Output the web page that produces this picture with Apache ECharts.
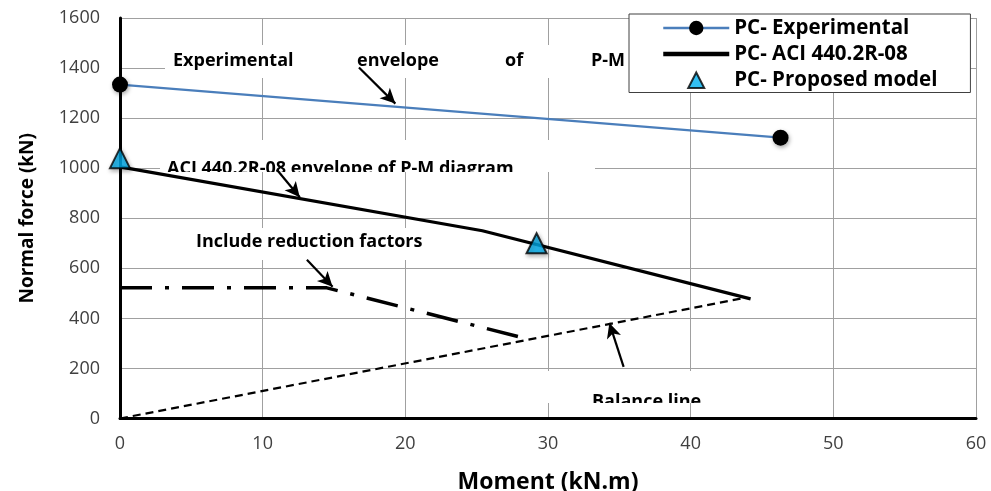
<!DOCTYPE html>
<html>
<head>
<meta charset="utf-8">
<script src="https://cdn.jsdelivr.net/npm/echarts@6/dist/echarts.min.js"></script>
<style>
  html, body { margin: 0; padding: 0; background: #ffffff; }
  #chart { width: 991px; height: 491px; }
</style>
</head>
<body>
<div id="chart"></div>
<script>
// P-M interaction curves: moment in kN.m, normal force in kN
const experimentalM = [0, 46.3];
const experimentalP = [1334, 1122];

const aciM = [0, 25.4, 44.2];
const aciP = [1005, 750, 478];

const proposedM = [0, 29.2];
const proposedP = [1040, 700];

const reducedM = [0, 14.5, 28.0];
const reducedP = [522, 522, 326];

const balanceM = [0, 43.8];
const balanceP = [0, 482];

// axis ranges
const xRange = { min: 0, max: 60, interval: 10 };
const yRange = { min: 0, max: 1600, interval: 200 };

// annotation arrows, [tail, head] in data units
const arrowExperimental = [[16.75, 1402], [19.3, 1258]];
const arrowAci = [[11.0, 994], [12.6, 884]];
const arrowReduced = [[13.1, 634], [14.9, 526]];
const arrowBalance = [[35.3, 206], [34.3, 382]];

const legendNames = ['PC- Experimental', 'PC- ACI 440.2R-08', 'PC- Proposed model'];

const zip = (xs, ys) => xs.map((x, i) => [x, ys[i]]);

const FONT = '"Open Sans", "DejaVu Sans", sans-serif';
const markerShadow = { shadowBlur: 4, shadowColor: 'rgba(0,0,0,0.35)', shadowOffsetX: 1, shadowOffsetY: 2 };

// legend triangle: the two leading moves pad the icon to the full 66x18 item box
const legendTriangle = 'path://M0,0M66,18M33,1.5L41,17L25,17Z';

function arrow(pair) {
  return {
    silent: true,
    symbol: ['none', 'arrow'],
    symbolSize: [11, 15],
    label: { show: false },
    lineStyle: { color: '#000', width: 2.2, type: 'solid' },
    emphasis: { disabled: true },
    animation: false,
    data: [[{ coord: pair[0] }, { coord: pair[1] }]]
  };
}

// white text panels, clipped to their own frames
const panels = [
  { rect: { left: 165, top: 45, width: 640, height: 33 },
    words: [['Experimental', 8, 16], ['envelope', 192, 16], ['of', 340, 16], ['P-M', 426, 16], ['diagram', 530, 16]] },
  { rect: { left: 160, top: 140, width: 435, height: 32 },
    words: [['ACI 440.2R-08 envelope of P-M diagram', 7, 28.5]] },
  { rect: { left: 188, top: 228, width: 237, height: 32 },
    words: [['Include reduction factors', 8, 14]] },
  { rect: { left: 540, top: 371, width: 220, height: 32 },
    words: [['Balance line', 52, 30.5]] }
];

const grids = [{ left: 120, right: 15, top: 18, bottom: 72.5, containLabel: false, outerBoundsMode: 'none' }];
const xAxes = [{
  type: 'value', gridIndex: 0, min: xRange.min, max: xRange.max, interval: xRange.interval,
  name: 'Moment (kN.m)', nameLocation: 'middle', nameGap: 52,
  nameTextStyle: { fontFamily: FONT, fontWeight: 'bold', fontSize: 23, color: '#000' },
  axisLine: { show: true, onZero: false, lineStyle: { color: '#000', width: 3 } },
  axisTick: { show: false },
  axisLabel: { margin: 16, fontFamily: FONT, fontSize: 18, color: '#404040' },
  splitLine: { show: true, lineStyle: { color: '#a0a0a0', width: 1 } }
}];
const yAxes = [{
  type: 'value', gridIndex: 0, min: yRange.min, max: yRange.max, interval: yRange.interval,
  name: 'Normal force (kN)', nameLocation: 'middle', nameGap: 83,
  nameTextStyle: { fontFamily: FONT, fontWeight: 'bold', fontSize: 19, color: '#000' },
  axisLine: { show: true, onZero: false, lineStyle: { color: '#000', width: 3 } },
  axisTick: { show: false },
  axisLabel: { margin: 20, fontFamily: FONT, fontSize: 18, color: '#404040', formatter: v => String(v) },
  splitLine: { show: true, lineStyle: { color: '#a0a0a0', width: 1 } }
}];

const panelSeries = panels.map((p, i) => {
  grids.push(Object.assign({ containLabel: false, outerBoundsMode: 'none' }, p.rect));
  xAxes.push({ type: 'value', gridIndex: i + 1, min: 0, max: 1, show: false });
  yAxes.push({ type: 'value', gridIndex: i + 1, min: 0, max: 1, show: false });
  return {
    type: 'custom',
    xAxisIndex: i + 1,
    yAxisIndex: i + 1,
    clip: true,
    silent: true,
    z: 1,
    data: [[0, 0]],
    renderItem: function (params) {
      const cs = params.coordSys;
      const children = [{
        type: 'rect',
        shape: { x: cs.x, y: cs.y, width: cs.width, height: cs.height },
        style: { fill: '#ffffff' }
      }];
      p.words.forEach(function (w) {
        children.push({
          type: 'text',
          x: cs.x + w[1],
          y: cs.y + w[2],
          style: {
            text: w[0],
            font: 'bold 18px ' + FONT,
            fill: '#000',
            textAlign: 'left', align: 'left',
            textVerticalAlign: 'middle', verticalAlign: 'middle'
          }
        });
      });
      return { type: 'group', children: children };
    }
  };
});

const option = {
  animation: false,
  backgroundColor: '#ffffff',
  grid: grids,
  xAxis: xAxes,
  yAxis: yAxes,
  legend: {
    data: [
      { name: legendNames[0], lineStyle: { width: 2.5 } },
      { name: legendNames[1], itemStyle: { opacity: 0 }, lineStyle: { width: 4.5, color: '#000000' } },
      { name: legendNames[2], icon: legendTriangle }
    ],
    orient: 'vertical',
    left: 629,
    top: 14,
    padding: [3.5, 33, 2, 32],
    itemWidth: 66,
    itemHeight: 18,
    itemGap: 5,
    backgroundColor: '#ffffff',
    borderColor: '#404040',
    borderWidth: 1,
    selectedMode: false,
    itemStyle: { shadowBlur: 0, shadowColor: 'rgba(0,0,0,0)', shadowOffsetX: 0, shadowOffsetY: 0 },
    textStyle: { fontFamily: FONT, fontWeight: 'bold', fontSize: 20.5, color: '#000' }
  },
  series: [
    {
      name: 'PC- Experimental',
      type: 'line',
      data: zip(experimentalM, experimentalP),
      symbol: 'circle',
      symbolSize: 16,
      showSymbol: true,
      clip: false,
      z: 3,
      lineStyle: { color: '#4A7EBB', width: 2.2 },
      itemStyle: Object.assign({ color: '#000000' }, markerShadow),
      emphasis: { disabled: true },
      markLine: arrow(arrowExperimental)
    },
    {
      name: 'PC- ACI 440.2R-08',
      type: 'line',
      data: zip(aciM, aciP),
      symbol: 'none',
      clip: false,
      z: 2,
      lineStyle: { color: '#000000', width: 3.2 },
      itemStyle: { color: '#000000' },
      emphasis: { disabled: true },
      markLine: arrow(arrowAci)
    },
    {
      name: 'Include reduction factors',
      type: 'line',
      data: zip(reducedM, reducedP),
      symbol: 'none',
      clip: false,
      z: 2,
      lineStyle: { color: '#000000', width: 3.5, type: [32, 13, 4, 13], cap: 'butt' },
      emphasis: { disabled: true },
      markLine: arrow(arrowReduced)
    },
    {
      name: 'Balance line',
      type: 'line',
      data: zip(balanceM, balanceP),
      symbol: 'none',
      clip: false,
      z: 2,
      lineStyle: { color: '#000000', width: 2.2, type: [8, 5] },
      emphasis: { disabled: true },
      markLine: arrow(arrowBalance)
    },
    {
      name: 'PC- Proposed model',
      type: 'scatter',
      data: zip(proposedM, proposedP),
      symbol: 'triangle',
      symbolSize: [20, 20],
      clip: false,
      z: 4,
      itemStyle: Object.assign({ color: '#00B0F0', borderColor: '#000000', borderWidth: 2 }, markerShadow),
      emphasis: { disabled: true }
    }
  ].concat(panelSeries)
};

const chart = echarts.init(document.getElementById('chart'), null, { renderer: 'canvas' });
chart.setOption(option);
</script>
</body>
</html>
